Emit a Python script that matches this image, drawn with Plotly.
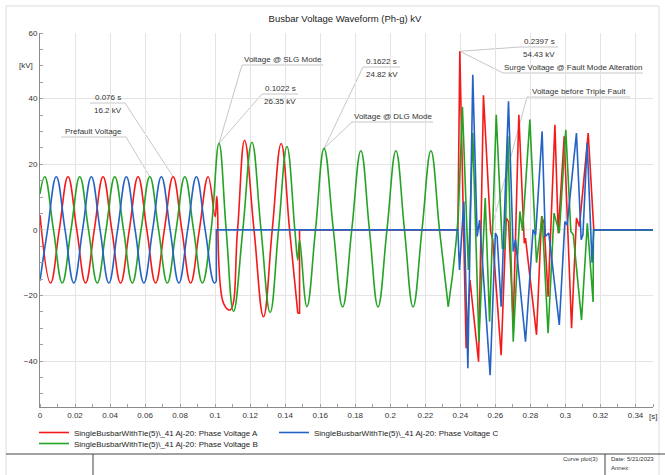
import plotly.graph_objects as go

# ---------------- Phase A (red) ----------------
# sinusoidal stretch: prefault + single-line-to-ground fault
a_wave_t = [0.0, 0.006, 0.011, 0.016, 0.021, 0.026, 0.031, 0.036, 0.041, 0.046,
            0.051, 0.056, 0.061, 0.066, 0.071, 0.076, 0.081, 0.086, 0.091, 0.096,
            0.100, 0.101, 0.1048, 0.1086, 0.1128, 0.1168, 0.1222, 0.1276, 0.1326,
            0.1377, 0.1425, 0.1472]
a_wave_v = [4.5, -16.2, 0, 16.2, 0, -16.2, 0, 16.2, 0, -16.2,
            0, 16.2, 0, -16.2, 0, 16.2, 0, -16.2, 0, 16.2,
            4.0, 10.2, -22.4, -24.4, 0, 27.3, 0, -26.5, 0,
            26.3, 0, -25.4]
# breaker opening, dead interval, triple-fault transient
a_step_t = [0.1472, 0.1482, 0.1482, 0.2386, 0.2397, 0.2433, 0.2455, 0.2504, 0.2532, 0.2573,
            0.2585, 0.2633, 0.2662, 0.2675, 0.2702, 0.2734, 0.2765, 0.2772, 0.2835, 0.2864,
            0.2878, 0.2901, 0.2940, 0.2959, 0.2993, 0.3035, 0.3063, 0.3080, 0.3130, 0.3158,
            0.3162, 0.35]
a_step_v = [-25.4, -25.4, 0, 0, 54.43, -36.1, -15.3, -40.2, 41.0, -0.5,
            -3.0, -38.2, 3.6, 2.5, -28.0, 35.1, -4.1, -2.5, -32.0, 4.1,
            2.0, -20.4, 32.0, -1.0, 28.5, -30.0, 3.6, 1.0, 29.5, 0.5,
            0, 0]

# ---------------- Phase B (green) ----------------
b_wave_t = [0.0, 0.0027, 0.0077, 0.0127, 0.0177, 0.0227, 0.0277, 0.0327, 0.0377, 0.0427,
            0.0477, 0.0527, 0.0577, 0.0627, 0.0677, 0.0727, 0.0777, 0.0827, 0.0877, 0.0927,
            0.0977, 0.1022, 0.1063, 0.1105, 0.1158, 0.1210, 0.1262, 0.1314, 0.1362, 0.1410,
            0.1455, 0.1472, 0.1482, 0.1524, 0.1573, 0.1622, 0.1675, 0.1728, 0.1780, 0.1832,
            0.1881, 0.1930, 0.1981, 0.2032, 0.2081, 0.2130, 0.2181, 0.2232, 0.2281, 0.2331]
b_wave_v = [11.0, 16.2, 0, -16.2, 0, 16.2, 0, -16.2, 0, 16.2,
            0, -16.2, 0, 16.2, 0, -16.2, 0, 16.2, 0, -16.2,
            0, 26.35, 0, -24.9, 0, 26.7, 0, -25.2, 0, 25.4,
            0, -9.2, -3.1, -23.4, 0, 24.82, 0, -23.5, 0, 24.1,
            0, -23.5, 0, 24.1, 0, -23.5, 0, 24.1, 0, -23.4]
b_step_t = [0.2331, 0.2355, 0.2375, 0.2388, 0.2412, 0.2446, 0.2471, 0.2506, 0.2542, 0.2567,
            0.2605, 0.2640, 0.2655, 0.2671, 0.2702, 0.2740, 0.2755, 0.2797, 0.2835, 0.2867,
            0.2901, 0.2935, 0.2965, 0.3002, 0.3031, 0.3045, 0.3092, 0.3125, 0.3158, 0.3160,
            0.35]
b_step_v = [-23.4, -14.0, -4.0, 4.1, 37.4, -12.2, 29.5, -34.1, 9.7, -28.0,
            35.1, -5.6, -5.6, 28.5, -34.1, 5.6, -0.3, 33.6, -10.0, 4.1,
            -31.5, 5.1, -1.0, 30.5, -0.5, -1.5, -27.5, 2.0, -22.0, 0,
            0]

# ---------------- Phase C (blue) ----------------
c_wave_t = [0.0, 0.0043, 0.0093, 0.0143, 0.0193, 0.0243, 0.0293, 0.0343, 0.0393, 0.0443,
            0.0493, 0.0543, 0.0593, 0.0643, 0.0693, 0.0743, 0.0793, 0.0843, 0.0893, 0.0943,
            0.0995, 0.1007]
c_wave_v = [-15.5, 0, 16.2, 0, -16.2, 0, 16.2, 0, -16.2, 0,
            16.2, 0, -16.2, 0, 16.2, 0, -16.2, 0, 16.2, 0,
            -16.2, -15.6]
c_step_t = [0.1007, 0.1007, 0.2386, 0.2395, 0.2420, 0.2443, 0.2471, 0.2496, 0.2510, 0.2570,
            0.2600, 0.2610, 0.2633, 0.2675, 0.2702, 0.2715, 0.2772, 0.2815, 0.2830, 0.2867,
            0.2885, 0.2905, 0.2965, 0.2997, 0.3010, 0.3063, 0.3090, 0.3100, 0.3124, 0.3152,
            0.3162, 0.35]
c_step_v = [-15.6, 0, 0, -12.2, 8.6, -42.2, 47.3, -2.0, 3.0, -44.3,
            -1.0, -2.0, -23.4, 39.2, -6.6, -3.0, -34.1, 0, -1.5, 30.0,
            -2.0, -1.0, -29.0, 2.5, 1.5, 29.5, -3.0, -1.5, 26.5, -10.0,
            0, 0]

series_names = [
    "SingleBusbarWithTie(5)\\_41 Aj-20: Phase Voltage A",
    "SingleBusbarWithTie(5)\\_41 Aj-20: Phase Voltage B",
    "SingleBusbarWithTie(5)\\_41 Aj-20: Phase Voltage C",
]

# readings marked on the curves (time in s, voltage in kV)
reading_t = [0.076, 0.1022, 0.1622, 0.2397]
reading_kv = [16.2, 26.35, 24.82, 54.43]

note_texts = ["Prefault Voltage", "Voltage @ SLG Mode", "Voltage @ DLG Mode",
              "Surge Voltage @ Fault Mode Alteration", "Voltage before Triple Fault"]
# points the notes refer to
note_t = [0.0627, 0.1022, 0.1622, 0.2397, 0.2573]
note_kv = [16.2, 26.35, 24.82, 54.43, -0.5]

x_ticks = [0, 0.02, 0.04, 0.06, 0.08, 0.1, 0.12, 0.14, 0.16, 0.18,
           0.2, 0.22, 0.24, 0.26, 0.28, 0.3, 0.32, 0.34]
x_ticktext = ["0", "0.02", "0.04", "0.06", "0.08", "0.1", "0.12", "0.14", "0.16", "0.18",
              "0.2", "0.22", "0.24", "0.26", "0.28", "0.3", "0.32", "0.34"]
y_ticks = [-40, -20, 0, 20, 40, 60]

colors = ["#f41a1a", "#25a325", "#2463c4"]
FONT = "Liberation Sans, Arial, sans-serif"

# plot-area geometry (pixels) used to place callouts and the page frame
W, H = 665, 475
L, R, T, B = 40, 12, 33, 68
X_RANGE = [0, 0.35]
Y_RANGE = [-54, 60]
PW, PH = W - L - R, H - T - B


def xd(px):
    return X_RANGE[0] + (px - L) / PW * (X_RANGE[1] - X_RANGE[0])


def yd(py):
    return Y_RANGE[1] - (py - T) / PH * (Y_RANGE[1] - Y_RANGE[0])


def xp(px):
    return (px - L) / PW


def yp(py):
    return (H - B - py) / PH


fig = go.Figure()

waves = [(a_wave_t, a_wave_v, a_step_t, a_step_v),
         (b_wave_t, b_wave_v, b_step_t, b_step_v),
         (c_wave_t, c_wave_v, c_step_t, c_step_v)]
legend_of = ["legend", "legend2", "legend"]
ranks = [1, 1, 2]
for i, (wt, wv, st, sv) in enumerate(waves):
    fig.add_trace(go.Scatter(
        x=wt, y=wv, mode="lines", name=series_names[i], legendgroup=str(i),
        legend=legend_of[i], legendrank=ranks[i],
        line=dict(color=colors[i], width=1.6, shape="spline", smoothing=1.2),
        hoverinfo="skip"))
    fig.add_trace(go.Scatter(
        x=st, y=sv, mode="lines", name=series_names[i], legendgroup=str(i),
        legend=legend_of[i], showlegend=False,
        line=dict(color=colors[i], width=1.6), hoverinfo="skip"))

shapes = []
annotations = []
LEAD = dict(color="#b8b8b8", width=0.8)
TXT = dict(family=FONT, size=8, color="#333333")

# two-line readings: time above a rule, voltage below, leader to the point
reading_boxes = [(90, 125, 103, "right"), (262, 298, 94, "left"),
                 (363, 400, 67, "left"), (520, 558, 47, "left")]
for (x0, x1, py, side), t, v in zip(reading_boxes, reading_t, reading_kv):
    shapes.append(dict(type="line", x0=xd(x0), x1=xd(x1), y0=yd(py), y1=yd(py),
                       xref="x", yref="y", line=LEAD, layer="below"))
    ax = x1 if side == "right" else x0
    shapes.append(dict(type="line", x0=xd(ax), y0=yd(py), x1=t, y1=v,
                       xref="x", yref="y", line=LEAD, layer="below"))
    cx = (x0 + x1) / 2
    annotations.append(dict(x=xd(cx), y=yd(py - 6), text=f"{t} s", showarrow=False,
                            font=TXT, xanchor="center", yanchor="middle"))
    annotations.append(dict(x=xd(cx), y=yd(py + 7), text=f"{v} kV", showarrow=False,
                            font=TXT, xanchor="center", yanchor="middle"))

# descriptive notes: text over a rule, leader to the point
note_boxes = [(61, 126, 137, "right"), (242, 323, 65, "left"), (352, 433, 122, "left"),
              (503, 643, 73, "left"), (527, 630, 97, "left")]
for (x0, x1, py, side), txt, t, v in zip(note_boxes, note_texts, note_t, note_kv):
    shapes.append(dict(type="line", x0=xd(x0), x1=xd(x1), y0=yd(py), y1=yd(py),
                       xref="x", yref="y", line=LEAD, layer="below"))
    ax = x1 if side == "right" else x0
    shapes.append(dict(type="line", x0=xd(ax), y0=yd(py), x1=t, y1=v,
                       xref="x", yref="y", line=LEAD, layer="below"))
    annotations.append(dict(x=xd((x0 + x1) / 2), y=yd(py - 6), text=txt, showarrow=False,
                            font=TXT, xanchor="center", yanchor="middle"))

# axis unit labels
annotations.append(dict(x=xp(35), y=50, xref="paper", yref="y", text="[kV]",
                        showarrow=False, font=TXT, xanchor="right", yanchor="middle"))
annotations.append(dict(x=0.35, y=yp(416), xref="x", yref="paper", text="[s]",
                        showarrow=False, font=TXT, xanchor="center", yanchor="middle"))

# page frame and footer block
shapes.append(dict(type="rect", xref="paper", yref="paper", x0=xp(6), x1=xp(659),
                   y0=yp(480), y1=yp(6), line=dict(color="#dddddd", width=1), layer="below"))
shapes.append(dict(type="line", xref="paper", yref="paper", x0=xp(6), x1=xp(666),
                   y0=yp(454), y1=yp(454), line=dict(color="#444444", width=1)))
for px in (93, 605):
    shapes.append(dict(type="line", xref="paper", yref="paper", x0=xp(px), x1=xp(px),
                       y0=yp(454), y1=yp(480), line=dict(color="#444444", width=1)))
FOOT = dict(family=FONT, size=6, color="#333333")
annotations.append(dict(x=xp(600), y=yp(459), xref="paper", yref="paper", text="Curve plot(3)",
                        showarrow=False, font=FOOT, xanchor="right", yanchor="middle"))
annotations.append(dict(x=xp(609), y=yp(459), xref="paper", yref="paper", text="Date: 5/21/2023",
                        showarrow=False, font=FOOT, xanchor="left", yanchor="middle"))
annotations.append(dict(x=xp(609), y=yp(468), xref="paper", yref="paper", text="Annex:",
                        showarrow=False, font=FOOT, xanchor="left", yanchor="middle"))

LEG = dict(orientation="h", xanchor="left", yanchor="top", entrywidth=195,
           entrywidthmode="pixels", font=dict(family=FONT, size=8, color="#222222"),
           bgcolor="rgba(0,0,0,0)", itemwidth=30)

fig.update_layout(
    width=W, height=H,
    margin=dict(l=L, r=R, t=T, b=B, autoexpand=False),
    paper_bgcolor="white", plot_bgcolor="white",
    title=dict(text="Busbar Voltage Waveform (Ph-g) kV", x=xp(345), xref="paper",
               xanchor="center", y=1 - 19 / H, yanchor="middle",
               font=dict(family=FONT, size=9.5, color="#222222")),
    font=dict(family=FONT, size=8, color="#333333"),
    showlegend=True,
    legend=dict(LEG, x=xp(34), y=yp(418)),
    legend2=dict(LEG, x=xp(34), y=yp(429)),
    shapes=shapes,
    annotations=annotations,
)
fig.update_xaxes(
    range=X_RANGE, tickvals=x_ticks, ticktext=x_ticktext, showgrid=True,
    gridcolor="#e4e4e4", gridwidth=1, zeroline=False, showline=True, linecolor="#8a8a8a",
    linewidth=1, ticks="", tickfont=dict(family=FONT, size=8, color="#333333"),
    minor=dict(dtick=0.01, tick0=0, ticks="inside", ticklen=3, tickcolor="#a0a0a0", showgrid=False),
)
fig.update_yaxes(
    range=Y_RANGE, tickvals=y_ticks, showgrid=True, gridcolor="#e4e4e4", gridwidth=1,
    zeroline=True, zerolinecolor="#e4e4e4", zerolinewidth=1, showline=True,
    linecolor="#8a8a8a", linewidth=1, ticks="", tickfont=dict(family=FONT, size=8, color="#333333"),
    minor=dict(dtick=5, tick0=0, ticks="inside", ticklen=3, tickcolor="#a0a0a0", showgrid=False),
)

fig.write_html("out.html")
